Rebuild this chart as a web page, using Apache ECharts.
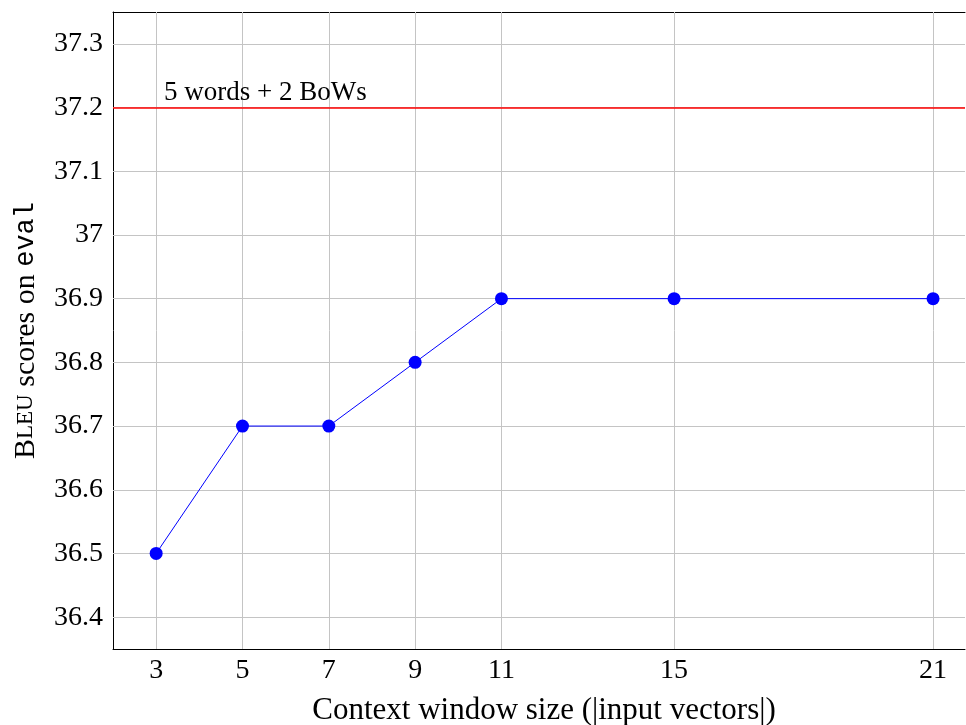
<!DOCTYPE html>
<html>
<head>
<meta charset="utf-8">
<script src="https://cdn.jsdelivr.net/npm/echarts@6/dist/echarts.min.js"></script>
<style>
html,body{margin:0;padding:0;background:#fff;}
#chart{width:966px;height:725px;}
</style>
</head>
<body>
<div id="chart"></div>
<script>
const xTicks = [3, 5, 7, 9, 11, 15, 21];
const yTicks = [36.4, 36.5, 36.6, 36.7, 36.8, 36.9, 37.0, 37.1, 37.2, 37.3];
const windowSizes = [3, 5, 7, 9, 11, 15, 21];
const bleuScores = [36.5, 36.7, 36.7, 36.8, 36.9, 36.9, 36.9];
const baselineScore = 37.2;
const baselineLabel = '5 words + 2 BoWs';
const xTitle = 'Context window size (|input vectors|)';

const FONT = '"Liberation Serif", "Times New Roman", serif';
const MONO = '"Liberation Mono", "DejaVu Sans Mono", monospace';
const chart = echarts.init(document.getElementById('chart'), null, {renderer: 'canvas'});

const fmtY = v => String(parseFloat(Number(v).toFixed(2)));
const tickStyle = {show: true, inside: true, length: 6, lineStyle: {color: '#555', width: 1}};

const baseX = {
  type: 'value', min: 2, max: 21.74,
  axisLine: {show: true, onZero: false, lineStyle: {color: '#000', width: 1}},
  splitLine: {show: false}
};

chart.setOption({
  animation: false,
  backgroundColor: '#fff',
  grid: {left: 113, top: 12, right: 1, bottom: 76, containLabel: false, outerBoundsMode: 'none'},
  xAxis: [
    Object.assign({}, baseX, {
      position: 'bottom',
      axisTick: Object.assign({customValues: xTicks}, tickStyle),
      axisLabel: {customValues: xTicks, color: '#000', fontFamily: FONT, fontSize: 28, margin: 8},
      name: xTitle, nameLocation: 'middle', nameGap: 46,
      nameTextStyle: {color: '#000', fontFamily: FONT, fontSize: 31, padding: [0, 0, 0, 10]}
    }),
    Object.assign({}, baseX, {
      position: 'top',
      axisTick: Object.assign({customValues: xTicks}, tickStyle),
      axisLabel: {show: false}
    })
  ],
  yAxis: {
    type: 'value', min: 36.35, max: 37.35,
    axisLine: {show: true, onZero: false, lineStyle: {color: '#000', width: 1}},
    axisTick: Object.assign({customValues: yTicks}, tickStyle),
    axisLabel: {customValues: yTicks, formatter: fmtY, color: '#000', fontFamily: FONT, fontSize: 28, margin: 10},
    splitLine: {show: false},
    name: '{b|B}{s|LEU}{n| scores on }{t|eval}',
    nameLocation: 'middle', nameRotate: 90, nameGap: 72,
    nameTextStyle: {
      color: '#000', fontFamily: FONT, fontSize: 30,
      rich: {
        b: {fontFamily: FONT, fontSize: 30, color: '#000'},
        s: {fontFamily: FONT, fontSize: 23, color: '#000'},
        n: {fontFamily: FONT, fontSize: 30, color: '#000'},
        t: {fontFamily: MONO, fontSize: 27, color: '#000'}
      }
    }
  },
  series: [
    {
      name: 'grid', type: 'line', data: [], z: 1, silent: true,
      markLine: {
        z: 1, silent: true, symbol: 'none', animation: false,
        label: {show: false},
        lineStyle: {color: '#c4c4c4', width: 1, type: 'solid'},
        emphasis: {disabled: true},
        data: yTicks.map(v => ({yAxis: v})).concat(xTicks.map(v => ({xAxis: v})))
      }
    },
    {
      name: 'baseline', type: 'line', data: [], z: 2, silent: true,
      markLine: {
        z: 2, silent: true, symbol: 'none', animation: false,
        lineStyle: {color: '#ff0000', width: 1.5, type: 'solid'},
        emphasis: {disabled: true},
        label: {show: true, position: 'insideStartTop', formatter: baselineLabel,
                color: '#000', fontFamily: FONT, fontSize: 27, distance: 1, padding: [0, 0, 0, 50]},
        data: [{yAxis: baselineScore}]
      }
    },
    {
      name: 'BLEU', type: 'line', z: 5,
      data: windowSizes.map((x, i) => [x, bleuScores[i]]),
      lineStyle: {color: '#0000ff', width: 1},
      itemStyle: {color: '#0000ff'},
      symbol: 'circle', symbolSize: 13, showSymbol: true
    }
  ]
});
</script>
</body>
</html>
